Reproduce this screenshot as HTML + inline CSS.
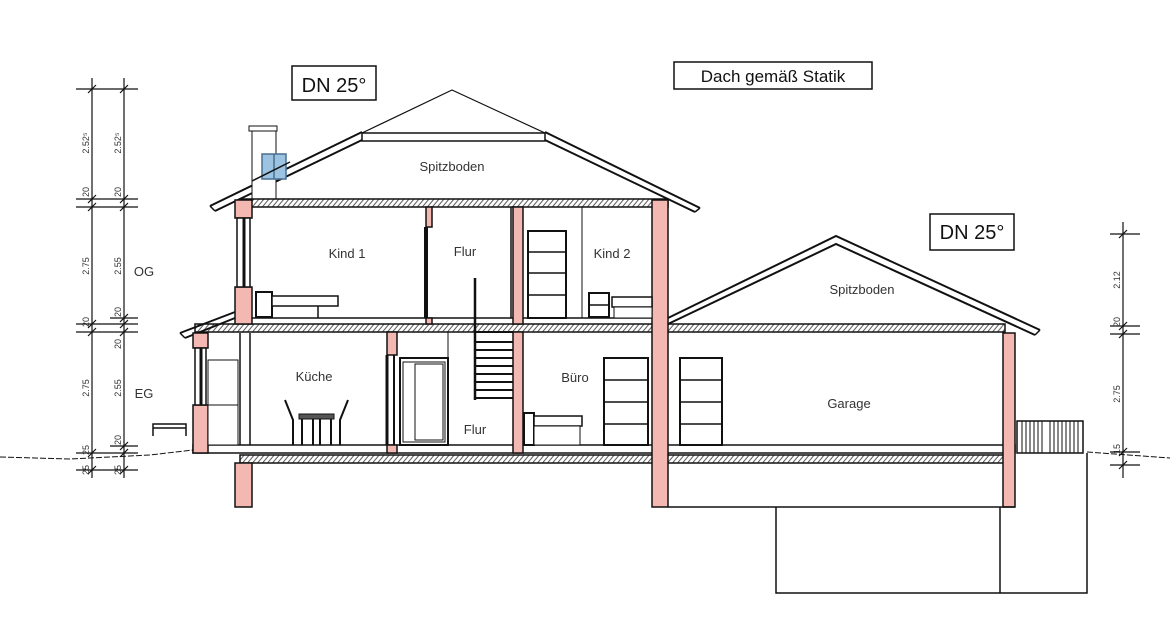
<!DOCTYPE html>
<html><head><meta charset="utf-8"><style>
html,body{margin:0;padding:0;background:#fff;}
svg{display:block;}
text{font-family:"Liberation Sans",sans-serif;fill:#333;}
</style></head><body>
<svg width="1170" height="628" viewBox="0 0 1170 628" xmlns="http://www.w3.org/2000/svg">
<defs>
<pattern id="h" width="5" height="8" patternUnits="userSpaceOnUse" patternTransform="skewX(-40)">
<rect width="5" height="8" fill="#fff"/><line x1="1" y1="0" x2="1" y2="8" stroke="#555" stroke-width="1.3"/>
</pattern>
</defs>
<g stroke="#111" fill="none" stroke-width="1.5">
<!-- ground line -->
<path d="M0 457 L70 459 L150 455 L193 450" stroke-dasharray="6 2" stroke-width="1"/>
<path d="M1087 452 L1170 458" stroke-dasharray="6 2" stroke-width="1"/>

<!-- main roof -->
<path d="M362 133 L452 90 L545 133" stroke-width="1.2"/>
<path d="M210 206 L362 132 M215 211 L362 140" stroke-width="2"/>
<path d="M545 132 L700 208 M545 140 L695 212" stroke-width="2"/>
<path d="M210 206 L215 211 M700 208 L695 212" />
<rect x="362" y="133" width="183" height="8" fill="#fff" stroke-width="1.5"/>
<!-- chimney -->
<rect x="252" y="130" width="24" height="70" fill="#fff" stroke-width="1"/>
<rect x="249" y="126" width="28" height="5" fill="#fff" stroke-width="1"/>
<rect x="262" y="154" width="24" height="25" fill="#9cc3e2" stroke="#4a6f90" stroke-width="1.5"/>
<line x1="274" y1="154" x2="274" y2="179" stroke="#4a6f90"/>
<path d="M252 181 L290 162" stroke-width="1.5"/>

<!-- attic slab -->
<rect x="240" y="199" width="428" height="8" fill="url(#h)"/>
<!-- OG slab -->
<rect x="195" y="324" width="810" height="8" fill="url(#h)"/>
<!-- EG slab -->
<rect x="240" y="455" width="765" height="8" fill="url(#h)"/>

<!-- lower roof eaves -->
<path d="M180 333 L235 312 M185 338 L235 318" stroke-width="2"/>
<path d="M180 333 L185 338"/>

<!-- garage roof -->
<path d="M668 318 L836 236 L1040 330 M668 324 L836 244 L1035 335" stroke-width="2"/>
<path d="M1040 330 L1035 335"/>

<!-- OG floor finish -->
<line x1="252" y1="318" x2="652" y2="318"/>
<!-- EG floor -->
<rect x="193" y="445" width="822" height="8" fill="#fff"/>

<!-- walls pink -->
<g fill="#f4b8b2" stroke="#111" stroke-width="1.5">
<rect x="235" y="200" width="17" height="18"/>
<rect x="235" y="287" width="17" height="37"/>
<rect x="235" y="463" width="17" height="44"/>
<rect x="426" y="207" width="6" height="20"/>
<rect x="426" y="318" width="6" height="6"/>
<rect x="513" y="207" width="10" height="117"/>
<rect x="513" y="332" width="10" height="121"/>
<rect x="652" y="200" width="16" height="307"/>
<rect x="193" y="333" width="15" height="15"/>
<rect x="193" y="405" width="15" height="48"/>
<rect x="387" y="332" width="10" height="23"/>
<rect x="387" y="445" width="10" height="8"/>
<rect x="1003" y="333" width="12" height="174"/>
</g>
<!-- window OG left -->
<rect x="237" y="218" width="13" height="69" fill="#fff"/>
<line x1="244" y1="218" x2="244" y2="287" stroke-width="3"/>
<!-- window EG left -->
<rect x="195" y="348" width="11" height="57" fill="#fff"/>
<line x1="201" y1="348" x2="201" y2="405" stroke-width="3"/>
<!-- interior walls/lines -->
<line x1="426" y1="227" x2="426" y2="318" stroke-width="4"/>
<line x1="250" y1="333" x2="250" y2="445"/>
<line x1="240" y1="333" x2="240" y2="445"/>
<rect x="208" y="360" width="30" height="45" fill="#fff" stroke-width="1"/>
<rect x="208" y="405" width="30" height="40" fill="#fff" stroke-width="1"/>
<line x1="387" y1="355" x2="387" y2="445" stroke-width="3"/>
<line x1="394" y1="355" x2="394" y2="445" stroke-width="2"/>
<rect x="400" y="358" width="48" height="87" fill="#fff" stroke-width="2"/>
<rect x="403" y="362" width="42" height="80" stroke-width="1"/>
<rect x="415" y="364" width="28" height="76" stroke-width="1"/>
<line x1="448" y1="332" x2="448" y2="445" stroke-width="1"/>
<line x1="511" y1="207" x2="511" y2="318" stroke-width="1.5"/>
<line x1="582" y1="207" x2="582" y2="318" stroke-width="1"/>
<!-- stairs -->
<line x1="475" y1="278" x2="475" y2="400" stroke-width="2.5"/>
<g stroke-width="2">
<line x1="475" y1="332" x2="513" y2="332"/><line x1="475" y1="342" x2="513" y2="342"/>
<line x1="475" y1="350" x2="513" y2="350"/><line x1="475" y1="358" x2="513" y2="358"/>
<line x1="475" y1="366" x2="513" y2="366"/><line x1="475" y1="374" x2="513" y2="374"/>
<line x1="475" y1="382" x2="513" y2="382"/><line x1="475" y1="390" x2="513" y2="390"/>
<line x1="475" y1="398" x2="513" y2="398"/>
</g>
<!-- doors -->
<g stroke-width="2" fill="#fff">
<rect x="528" y="231" width="38" height="87"/>
<rect x="604" y="358" width="44" height="87"/>
<rect x="680" y="358" width="42" height="87"/>
</g>
<g stroke-width="1.5">
<path d="M528 252 H566 M528 273 H566 M528 295 H566"/>
<path d="M604 380 H648 M604 402 H648 M604 424 H648"/>
<path d="M680 380 H722 M680 402 H722 M680 424 H722"/>
</g>
<!-- beds / furniture -->
<rect x="256" y="292" width="16" height="25" fill="#fff" stroke-width="2"/>
<rect x="272" y="296" width="66" height="10" fill="#fff"/>
<line x1="318" y1="306" x2="318" y2="318"/>
<rect x="589" y="293" width="20" height="24" fill="#fff" stroke-width="2"/>
<line x1="589" y1="305" x2="609" y2="305"/>
<rect x="612" y="297" width="40" height="10" fill="#fff"/>
<rect x="614" y="307" width="38" height="11" fill="#fff" stroke-width="1"/>
<rect x="524" y="413" width="10" height="32" fill="#fff" stroke-width="2"/>
<rect x="534" y="416" width="48" height="10" fill="#fff"/>
<rect x="534" y="426" width="46" height="19" fill="#fff" stroke-width="1"/>
<!-- table/chairs -->
<rect x="299" y="414" width="35" height="5" fill="#555" stroke-width="1"/>
<path d="M285 400 L293 420 L293 445 M348 400 L340 420 L340 445" stroke-width="2"/>
<path d="M302 419 V445 M313 419 V445 M320 419 V445 M331 419 V445" stroke-width="2"/>
<!-- bench outside -->
<path d="M153 436 V424 H186 V436 M153 428 H186"/>
<!-- garage fence -->
<rect x="1017" y="421" width="66" height="32" stroke-width="1.5"/>
<path d="M1022 421V453M1026 421V453M1030 421V453M1034 421V453M1038 421V453M1042 421V453M1050 421V453M1054 421V453M1058 421V453M1062 421V453M1066 421V453M1070 421V453M1074 421V453M1078 421V453" stroke-width="1"/>
<!-- foundations -->
<line x1="668" y1="507" x2="1015" y2="507"/>
<path d="M776 507 V593 H1087 V453" stroke-width="1.5"/>
<line x1="1000" y1="507" x2="1000" y2="593"/>

<!-- dimension lines left -->
<g stroke-width="1.2">
<line x1="92" y1="78" x2="92" y2="478"/><line x1="124" y1="78" x2="124" y2="478"/>
<path d="M76 89H138M76 199H138M76 207H138M76 324H138M76 332H138M110 318H138M76 453H138M76 470H138M110 446H138"/>
<path d="M88 93L96 85M120 93L128 85M88 203L96 195M120 203L128 195M88 211L96 203M120 211L128 203M88 328L96 320M120 328L128 320M88 336L96 328M120 336L128 328M120 322L128 314M88 457L96 449M120 457L128 449M120 450L128 442M88 474L96 466M120 474L128 466"/>
<!-- right -->
<line x1="1123" y1="222" x2="1123" y2="478"/>
<path d="M1110 234H1140M1110 326H1140M1110 334H1140M1110 452H1140M1110 465H1140"/>
<path d="M1119 238L1127 230M1119 330L1127 322M1119 338L1127 330M1119 456L1127 448M1119 469L1127 461"/>
</g>
<!-- label boxes -->
<rect x="292" y="66" width="84" height="34" stroke-width="1.5" fill="#fff"/>
<rect x="674" y="62" width="198" height="27" stroke-width="1.5" fill="#fff"/>
<rect x="930" y="214" width="84" height="36" stroke-width="1.5" fill="#fff"/>
</g>

<text x="334" y="92" font-size="20" text-anchor="middle" style="fill:#111">DN 25°</text>
<text x="773" y="82" font-size="17" text-anchor="middle" style="fill:#111">Dach gemäß Statik</text>
<text x="972" y="239" font-size="20" text-anchor="middle" style="fill:#111">DN 25°</text>

<g font-size="13" text-anchor="middle">
<text x="452" y="171">Spitzboden</text>
<text x="347" y="258">Kind 1</text>
<text x="465" y="256">Flur</text>
<text x="612" y="258">Kind 2</text>
<text x="314" y="381">Küche</text>
<text x="575" y="382">Büro</text>
<text x="475" y="434">Flur</text>
<text x="862" y="294">Spitzboden</text>
<text x="849" y="408">Garage</text>
<text x="144" y="276">OG</text>
<text x="144" y="398">EG</text>
</g>
<g font-size="9" text-anchor="middle">
<text transform="translate(89,143) rotate(-90)">2.52⁵</text>
<text transform="translate(121,143) rotate(-90)">2.52⁵</text>
<text transform="translate(89,192) rotate(-90)">20</text>
<text transform="translate(121,192) rotate(-90)">20</text>
<text transform="translate(89,266) rotate(-90)">2.75</text>
<text transform="translate(121,266) rotate(-90)">2.55</text>
<text transform="translate(89,322) rotate(-90)">20</text>
<text transform="translate(121,312) rotate(-90)">20</text>
<text transform="translate(121,344) rotate(-90)">20</text>
<text transform="translate(89,388) rotate(-90)">2.75</text>
<text transform="translate(121,388) rotate(-90)">2.55</text>
<text transform="translate(121,440) rotate(-90)">20</text>
<text transform="translate(89,450) rotate(-90)">25</text>
<text transform="translate(121,470) rotate(-90)">25</text>
<text transform="translate(89,470) rotate(-90)">25</text>
<text transform="translate(1120,280) rotate(-90)">2.12</text>
<text transform="translate(1120,322) rotate(-90)">20</text>
<text transform="translate(1120,394) rotate(-90)">2.75</text>
<text transform="translate(1120,449) rotate(-90)">15</text>
</g>
</svg>
</body></html>
